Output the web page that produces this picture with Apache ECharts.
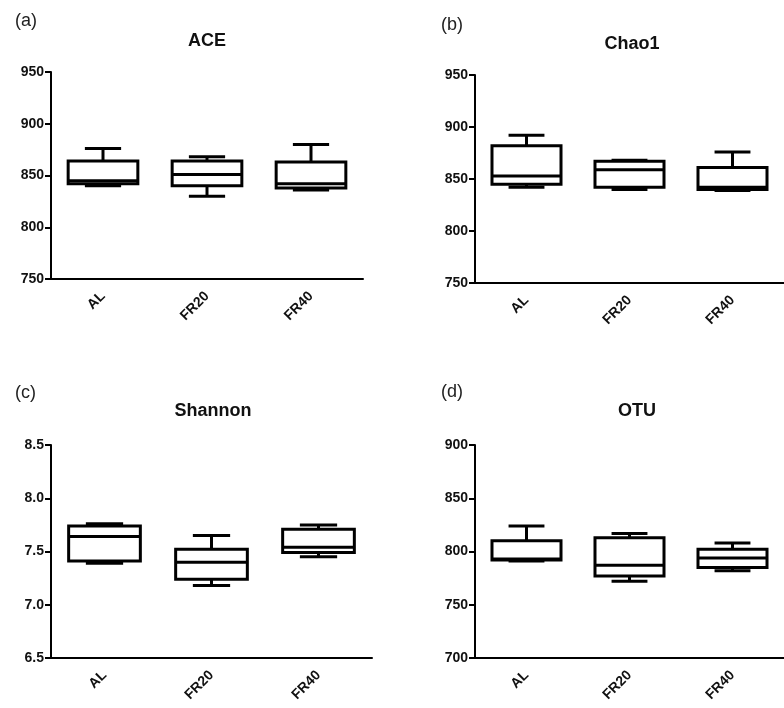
<!DOCTYPE html>
<html>
<head>
<meta charset="utf-8">
<script src="https://cdn.jsdelivr.net/npm/echarts@6/dist/echarts.min.js"></script>
<style>
html,body{margin:0;padding:0;background:#fff;}
#chart{width:784px;height:708px;}
</style>
</head>
<body>
<div id="chart"></div>
<script>
// ---- Data (min, Q1, median, Q3, max) ----
const categories = ['AL', 'FR20', 'FR40'];
const aceData     = [[840, 842, 845, 864, 876], [830, 840, 851, 864, 868], [836, 838, 842, 863, 880]];
const chao1Data   = [[842, 845, 853, 882, 892], [840, 842, 859, 867, 868], [839, 840, 842, 861, 876]];
const shannonData = [[7.39, 7.41, 7.64, 7.74, 7.76], [7.18, 7.24, 7.40, 7.52, 7.65], [7.45, 7.49, 7.54, 7.71, 7.75]];
const otuData     = [[791, 792, 793, 810, 824], [772, 777, 787, 813, 817], [782, 785, 794, 802, 808]];
const panelTitles = ['ACE', 'Chao1', 'Shannon', 'OTU'];
const panelLabels = ['(a)', '(b)', '(c)', '(d)'];
const yMins = [750, 750, 6.5, 700];
const yMaxs = [950, 950, 8.5, 900];
const yIntervals = [50, 50, 0.5, 50];
const yDecimals = [0, 0, 1, 0];

const allData = [aceData, chao1Data, shannonData, otuData];

// ---- Layout ----
const grids = [
  {left: 51, top: 72, width: 312, height: 207},
  {left: 475, top: 75, width: 311, height: 208},
  {left: 51, top: 445, width: 321, height: 213},
  {left: 475, top: 445, width: 320, height: 213}
];
const titlePos = [[207, 32], [632, 35], [213, 402], [637, 402]];
const labelPos = [[15, 12], [441, 16], [15, 384], [441, 383]];

const FONT = '"Liberation Sans", Arial, sans-serif';

function renderBox(params, api) {
  const i = api.value(0);
  const band = api.size([1, 0])[0];
  const bw = band * 0.67;
  const cw = bw * 0.52;
  const x = api.coord([i, api.value(3)])[0];
  const yMin = api.coord([i, api.value(1)])[1];
  const yQ1 = api.coord([i, api.value(2)])[1];
  const yMed = api.coord([i, api.value(3)])[1];
  const yQ3 = api.coord([i, api.value(4)])[1];
  const yMax = api.coord([i, api.value(5)])[1];
  const ls = {stroke: '#000', lineWidth: 3, fill: null};
  return {
    type: 'group',
    children: [
      {type: 'line', shape: {x1: x, y1: yMax, x2: x, y2: yQ3}, style: ls},
      {type: 'line', shape: {x1: x, y1: yQ1, x2: x, y2: yMin}, style: ls},
      {type: 'line', shape: {x1: x - cw / 2, y1: yMax, x2: x + cw / 2, y2: yMax}, style: ls},
      {type: 'line', shape: {x1: x - cw / 2, y1: yMin, x2: x + cw / 2, y2: yMin}, style: ls},
      {type: 'rect', shape: {x: x - bw / 2, y: yQ3, width: bw, height: yQ1 - yQ3},
        style: {fill: '#fff', stroke: '#000', lineWidth: 3}},
      {type: 'line', shape: {x1: x - bw / 2, y1: yMed, x2: x + bw / 2, y2: yMed}, style: ls}
    ]
  };
}

const option = {
  backgroundColor: '#fff',
  animation: false,
  title: [],
  grid: [],
  xAxis: [],
  yAxis: [],
  series: []
};

for (let p = 0; p < 4; p++) {
  option.title.push({
    text: panelTitles[p], left: titlePos[p][0], top: titlePos[p][1], textAlign: 'center', padding: 0,
    textStyle: {fontFamily: FONT, fontWeight: 'bold', fontSize: 18, color: '#111'}
  });
  option.title.push({
    text: panelLabels[p], left: labelPos[p][0], top: labelPos[p][1], padding: 0,
    textStyle: {fontFamily: FONT, fontWeight: 'normal', fontSize: 18, color: '#222'}
  });
  option.grid.push(Object.assign({containLabel: false}, grids[p]));
  option.xAxis.push({
    type: 'category', gridIndex: p, data: categories, boundaryGap: true,
    axisLine: {lineStyle: {color: '#000', width: 2}},
    axisTick: {alignWithLabel: true, length: 6, lineStyle: {color: '#000', width: 2}},
    axisLabel: {rotate: 45, margin: 15, color: '#111', fontFamily: FONT, fontWeight: 'bold', fontSize: 14},
    splitLine: {show: false}
  });
  const dec = yDecimals[p];
  option.yAxis.push({
    type: 'value', gridIndex: p, min: yMins[p], max: yMaxs[p], interval: yIntervals[p],
    axisLine: {show: true, lineStyle: {color: '#000', width: 2}},
    axisTick: {show: true, length: 6, lineStyle: {color: '#000', width: 2}},
    axisLabel: {margin: 7, color: '#111', fontFamily: FONT, fontWeight: 'bold', fontSize: 14,
      formatter: v => Number(v).toFixed(dec)},
    splitLine: {show: false}
  });
  option.series.push({
    type: 'custom', xAxisIndex: p, yAxisIndex: p,
    renderItem: renderBox,
    encode: {x: 0, y: [1, 2, 3, 4, 5]},
    data: allData[p].map((d, i) => [i].concat(d))
  });
}

const chart = echarts.init(document.getElementById('chart'), null, {renderer: 'canvas'});
chart.setOption(option);
</script>
</body>
</html>
